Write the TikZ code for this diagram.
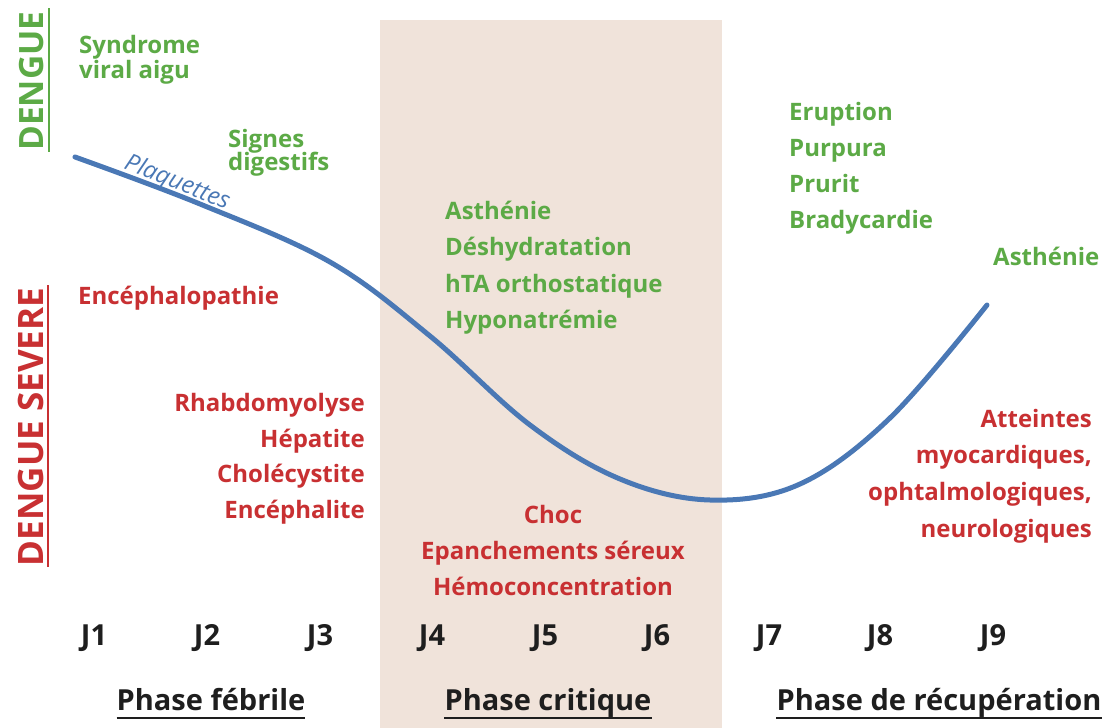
\documentclass[tikz,border=0pt]{standalone}
\usepackage{fontspec}
\setmainfont{Open Sans}
\usetikzlibrary{calc}
\definecolor{dgreen}{RGB}{92,170,70}
\definecolor{dred}{RGB}{200,48,50}
\definecolor{curveblue}{RGB}{74,120,181}
\definecolor{bandcol}{RGB}{240,227,218}
\definecolor{dark}{RGB}{30,30,30}
\begin{document}
\begin{tikzpicture}[x=1pt,y=-1pt,
  lbl/.style={inner sep=0pt, font=\fontsize{24}{24}\selectfont\bfseries},
  grn/.style={lbl, text=dgreen},
  rd/.style={lbl, text=dred},
  day/.style={inner sep=0pt, anchor=base, text=dark, font=\fontsize{29}{29}\selectfont\bfseries},
  phase/.style={inner sep=0pt, anchor=base, text=dark, font=\fontsize{29}{29}\selectfont\bfseries},
  vlab/.style={inner sep=0pt, rotate=90, anchor=base, font=\bfseries},
  uline/.style={line width=1.6pt}
]
\useasboundingbox (0,0) rectangle (1112,728);
\fill[bandcol] (380,20) rectangle (722,728);

% vertical titles
\node[vlab, text=dgreen, font=\fontsize{33.5}{34}\selectfont\bfseries] (dengue) at (43,81) {DENGUE};
\draw[uline, dgreen] (49,8) -- (49,152);
\node[vlab, text=dred, font=\fontsize{35}{35}\selectfont\bfseries] (severe) at (43,427) {DENGUE SEVERE};
\draw[uline, dred] (48,285) -- (48,567);

% curve
\draw[curveblue, line width=5pt, line cap=round] plot[smooth, tension=0.6] coordinates
  {(75,157) (200,204) (330,262) (430,336) (530,425) (620,479) (710,500) (800,484) (890,418) (987,305)};
\node[inner sep=0pt, rotate=-22, text=curveblue, font=\fontsize{24}{24}\selectfont\itshape] (plaq) at (177,183) {Plaquettes};

% green labels
\node[grn, anchor=base west] (g1a) at (79,53) {Syndrome};
\node[grn, anchor=base west] (g1b) at (79,78) {viral aigu};
\node[grn, anchor=base west] (g2a) at (228,147) {Signes};
\node[grn, anchor=base west] (g2b) at (228,170) {digestifs};
\node[grn, anchor=base west] (g3a) at (445,219) {Asthénie};
\node[grn, anchor=base west] (g3b) at (445,255) {Déshydratation};
\node[grn, anchor=base west] (g3c) at (445,292) {hTA orthostatique};
\node[grn, anchor=base west] (g3d) at (445,328) {Hyponatrémie};
\node[grn, anchor=base west] (g4a) at (789,120) {Eruption};
\node[grn, anchor=base west] (g4b) at (789,156) {Purpura};
\node[grn, anchor=base west] (g4c) at (789,192) {Prurit};
\node[grn, anchor=base west] (g4d) at (789,228) {Bradycardie};
\node[grn, anchor=base west] (g5) at (993,265) {Asthénie};

% red labels
\node[rd, anchor=base west] (r1) at (78,304) {Encéphalopathie};
\node[rd, anchor=base east] (r2a) at (365,411) {Rhabdomyolyse};
\node[rd, anchor=base east] (r2b) at (365,447) {Hépatite};
\node[rd, anchor=base east] (r2c) at (365,482) {Cholécystite};
\node[rd, anchor=base east] (r2d) at (365,518) {Encéphalite};
\node[rd, anchor=base] (r3a) at (553,523) {Choc};
\node[rd, anchor=base] (r3b) at (553,559) {Epanchements séreux};
\node[rd, anchor=base] (r3c) at (553,595) {Hémoconcentration};
\node[rd, anchor=base east] (r4a) at (1092,427) {Atteintes};
\node[rd, anchor=base east] (r4b) at (1092,463) {myocardiques,};
\node[rd, anchor=base east] (r4c) at (1092,500) {ophtalmologiques,};
\node[rd, anchor=base east] (r4d) at (1092,537) {neurologiques};

% days
\foreach \i/\x in {1/94,2/207,3/320,4/432,5/545,6/657,7/769,8/880,9/993}
  \node[day] (j\i) at (\x,645) {J\i};

% phases
\node[phase] (ph1) at (211,710) {Phase fébrile};
\node[phase] (ph2) at (548,710) {Phase critique};
\node[phase] (ph3) at (939,710) {Phase de récupération};
\foreach \p in {ph1,ph2,ph3}
  \draw[uline, dark] ($(\p.base west)+(0,8)$) -- ($(\p.base east)+(0,8)$);
\end{tikzpicture}
\end{document}
